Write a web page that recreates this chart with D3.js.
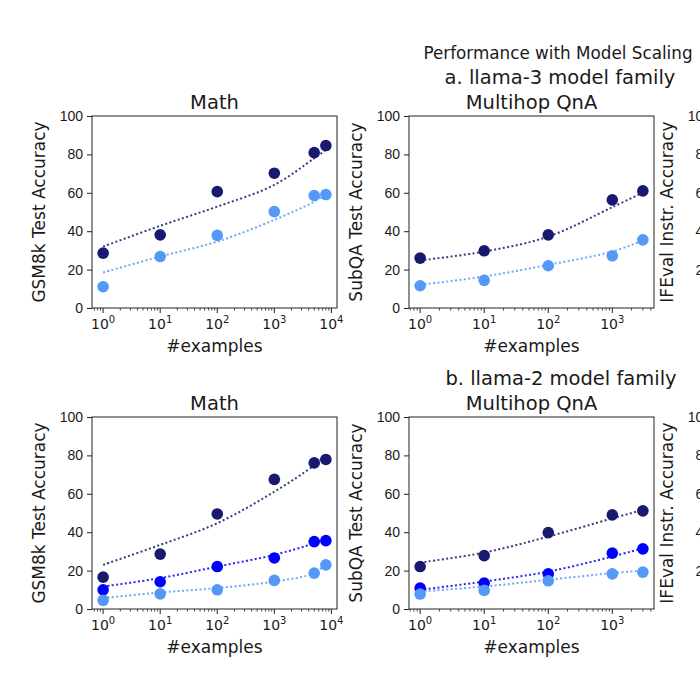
<!DOCTYPE html>
<html>
<head>
<meta charset="utf-8">
<script src="https://cdn.jsdelivr.net/npm/d3@7"></script>
<style>
  html, body { margin: 0; padding: 0; background: #fff; }
  svg { display: block; font-family: 'DejaVu Sans', sans-serif; }
  .tick-lbl { font-size: 14px; fill: #1a1a1a; }
  .ax-title { font-size: 17px; fill: #1a1a1a; }
  .p-title { font-size: 19.5px; fill: #1a1a1a; }
</style>
</head>
<body>
<svg id="chart" width="700" height="700"></svg>
<script>
// Performance with model scaling: accuracy vs #examples, two model families.
var xMath = [1, 10, 100, 1000, 5000, 8000];
var xQnA = [1, 10, 100, 1000, 3000];
var yTicks = [0, 20, 40, 60, 80, 100];

// llama-3, Math (GSM8k)
var math3Dark = [28.6, 38.1, 60.6, 70.2, 80.9, 84.6];
var math3DarkFit = [32.0, 42.8, 52.8, 64.1, 78.0, 82.3];
var math3Light = [11.1, 26.8, 37.8, 50.2, 58.6, 59.1];
var math3LightFit = [18.5, 26.8, 34.6, 45.9, 55.4, 59.3];

// llama-3, Multihop QnA (SubQA)
var qna3Dark = [26.0, 29.8, 38.1, 56.3, 61.0];
var qna3DarkFit = [24.8, 29.4, 37.2, 52.5, 60.1];
var qna3Light = [11.6, 14.4, 22.0, 27.2, 35.5];
var qna3LightFit = [12.1, 16.4, 22.5, 29.4, 35.2];

// llama-2, Math (GSM8k)
var math2Dark = [16.6, 28.6, 49.5, 67.5, 76.1, 77.9];
var math2DarkFit = [23.0, 33.4, 44.7, 61.1, 74.9, 80.5];
var math2Blue = [10.0, 14.2, 22.1, 26.6, 35.1, 35.6];
var math2BlueFit = [11.7, 16.1, 22.1, 28.2, 34.3, 36.9];
var math2Light = [4.5, 7.9, 10.0, 14.9, 18.7, 23.0];
var math2LightFit = [5.7, 8.6, 10.9, 14.3, 18.7, 23.5];

// llama-2, Multihop QnA (SubQA)
var qna2Dark = [22.1, 27.8, 39.8, 49.0, 51.1];
var qna2DarkFit = [24.2, 29.4, 37.7, 47.2, 51.6];
var qna2Blue = [10.9, 13.5, 18.3, 29.1, 31.3];
var qna2BlueFit = [10.0, 14.3, 19.5, 27.3, 31.7];
var qna2Light = [7.8, 9.7, 14.7, 18.3, 19.2];
var qna2LightFit = [9.1, 11.7, 15.2, 18.7, 20.0];

var C_DARK = '#191970', C_BLUE = '#0000ff', C_LIGHT = '#5599f7';

(function () {
    var svg = d3.select('#chart');
    var PW = 245, PH = 192;
    var colX = [92, 409, 720];
    var rowY = [116, 417];

    function logTicksMinor(lo, hi) {
        var out = [];
        for (var e = -1; e <= 5; e++) {
            for (var m = 2; m <= 9; m++) {
                var v = m * Math.pow(10, e);
                if (v >= lo && v <= hi) out.push(v);
            }
        }
        return out;
    }

    function yAxis(g, y) {
        var ay = g.append('g').call(d3.axisLeft(y).tickValues(yTicks).tickSize(5).tickPadding(4)
            .tickFormat(d3.format('d')));
        ay.select('.domain').remove();
        ay.selectAll('line').attr('stroke', '#222');
        ay.selectAll('text').attr('class', 'tick-lbl').attr('font-size', null).attr('font-family', null).attr('fill', null);
    }

    function yLabel(g, text) {
        g.append('text').attr('class', 'ax-title')
            .attr('transform', 'translate(-47.5,' + (PH / 2) + ') rotate(-90)')
            .attr('text-anchor', 'middle')
            .text(text);
    }

    function panel(ox, oy, xmax, title, ylabel, series) {
        var g = svg.append('g').attr('transform', 'translate(' + ox + ',' + oy + ')');
        // matplotlib-like 5% margins in log space
        var l0 = 0, l1 = Math.log10(xmax), pad = (l1 - l0) * 0.05;
        var lo = Math.pow(10, l0 - pad), hi = Math.pow(10, l1 + pad);
        var x = d3.scaleLog().domain([lo, hi]).range([0, PW]);
        var y = d3.scaleLinear().domain([0, 100]).range([PH, 0]);

        series.forEach(function (s) {
            var pts = s.xs.map(function (d, i) { return [d, s.ys[i]]; });
            g.append('g').selectAll('circle').data(pts).enter().append('circle')
                .attr('cx', function (d) { return x(d[0]); })
                .attr('cy', function (d) { return y(d[1]); })
                .attr('r', 5.8)
                .attr('fill', s.color);
            var fit = s.xs.map(function (d, i) { return [d, s.fit[i]]; });
            g.append('path').datum(fit)
                .attr('fill', 'none')
                .attr('stroke', s.color)
                .attr('stroke-opacity', 0.85)
                .attr('stroke-width', 2)
                .attr('stroke-dasharray', '2 2.4')
                .attr('d', d3.line()
                    .x(function (d) { return x(d[0]); })
                    .y(function (d) { return y(d[1]); })
                    .curve(d3.curveCatmullRom.alpha(0.5)));
        });

        g.append('rect').attr('x', 0).attr('y', 0).attr('width', PW).attr('height', PH)
            .attr('fill', 'none').attr('stroke', '#222').attr('stroke-width', 1);

        yAxis(g, y);

        // x axis, log
        var majors = [];
        for (var e = 0; Math.pow(10, e) <= hi; e++) majors.push(e);
        var ax = g.append('g').attr('transform', 'translate(0,' + PH + ')');
        ax.selectAll('line.maj').data(majors).enter().append('line')
            .attr('x1', function (e) { return x(Math.pow(10, e)); })
            .attr('x2', function (e) { return x(Math.pow(10, e)); })
            .attr('y1', 0).attr('y2', 5).attr('stroke', '#222');
        ax.selectAll('line.min').data(logTicksMinor(lo, hi)).enter().append('line')
            .attr('x1', function (d) { return x(d); }).attr('x2', function (d) { return x(d); })
            .attr('y1', 0).attr('y2', 2.6).attr('stroke', '#222').attr('stroke-width', 0.8);
        var tl = ax.selectAll('text.xt').data(majors).enter().append('text')
            .attr('class', 'tick-lbl')
            .attr('x', function (e) { return x(Math.pow(10, e)); })
            .attr('y', 21)
            .attr('text-anchor', 'middle');
        tl.append('tspan').text('10');
        tl.append('tspan').attr('dy', -6).attr('font-size', 10).text(function (e) { return e; });

        g.append('text').attr('class', 'ax-title')
            .attr('x', PW / 2).attr('y', PH + 43.5).attr('text-anchor', 'middle')
            .text('#examples');
        yLabel(g, ylabel);
        g.append('text').attr('class', 'p-title')
            .attr('x', PW / 2).attr('y', -7).attr('text-anchor', 'middle')
            .text(title);
    }

    // third column sits at the right edge: only its y axis shows
    function edgePanel(ox, oy, ylabel) {
        var g = svg.append('g').attr('transform', 'translate(' + ox + ',' + oy + ')');
        var y = d3.scaleLinear().domain([0, 100]).range([PH, 0]);
        yAxis(g, y);
        yLabel(g, ylabel);
    }

    // row a: llama-3
    panel(colX[0], rowY[0], 8000, 'Math', 'GSM8k Test Accuracy', [
        { xs: xMath, ys: math3Dark, fit: math3DarkFit, color: C_DARK },
        { xs: xMath, ys: math3Light, fit: math3LightFit, color: C_LIGHT }
    ]);
    panel(colX[1], rowY[0], 3000, 'Multihop QnA', 'SubQA Test Accuracy', [
        { xs: xQnA, ys: qna3Dark, fit: qna3DarkFit, color: C_DARK },
        { xs: xQnA, ys: qna3Light, fit: qna3LightFit, color: C_LIGHT }
    ]);
    edgePanel(colX[2], rowY[0], 'IFEval Instr. Accuracy');

    // row b: llama-2
    panel(colX[0], rowY[1], 8000, 'Math', 'GSM8k Test Accuracy', [
        { xs: xMath, ys: math2Dark, fit: math2DarkFit, color: C_DARK },
        { xs: xMath, ys: math2Blue, fit: math2BlueFit, color: C_BLUE },
        { xs: xMath, ys: math2Light, fit: math2LightFit, color: C_LIGHT }
    ]);
    panel(colX[1], rowY[1], 3000, 'Multihop QnA', 'SubQA Test Accuracy', [
        { xs: xQnA, ys: qna2Dark, fit: qna2DarkFit, color: C_DARK },
        { xs: xQnA, ys: qna2Blue, fit: qna2BlueFit, color: C_BLUE },
        { xs: xQnA, ys: qna2Light, fit: qna2LightFit, color: C_LIGHT }
    ]);
    edgePanel(colX[2], rowY[1], 'IFEval Instr. Accuracy');

    // figure / subfigure titles
    svg.append('text').attr('x', 558).attr('y', 59).attr('text-anchor', 'middle')
        .attr('font-size', 16.8).attr('fill', '#1a1a1a').text('Performance with Model Scaling');
    svg.append('text').attr('class', 'p-title').attr('x', 560).attr('y', 84).attr('text-anchor', 'middle')
        .text('a. llama-3 model family');
    svg.append('text').attr('class', 'p-title').attr('x', 561).attr('y', 385).attr('text-anchor', 'middle')
        .text('b. llama-2 model family');
})();
</script>
</body>
</html>
